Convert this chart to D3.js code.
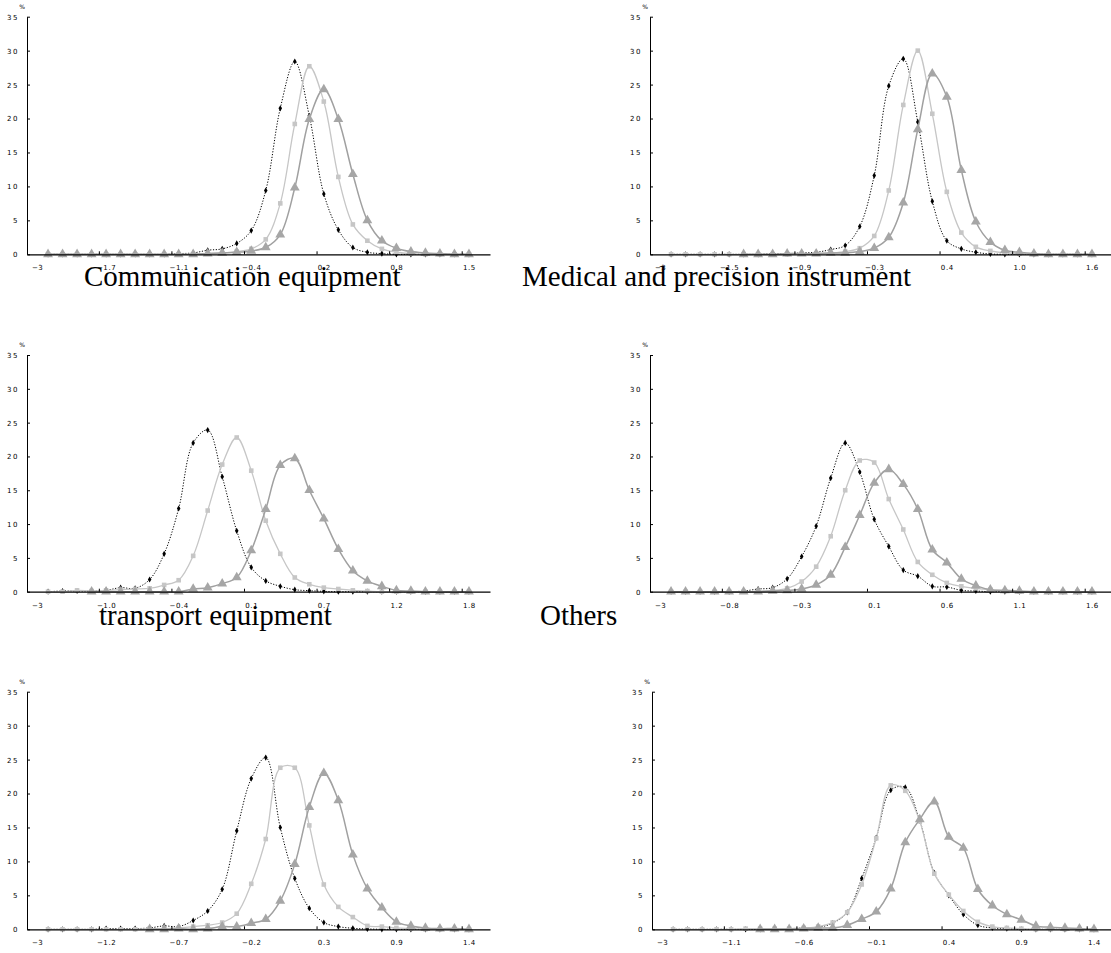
<!DOCTYPE html>
<html>
<head>
<meta charset="utf-8">
<script src="https://cdn.jsdelivr.net/npm/d3@7"></script>
<style>
  body { margin: 0; background: #fff; }
  svg { display: block; background: #fff; }
  .axis text { font-family: "DejaVu Sans", sans-serif; font-size: 7px; fill: #000; }
  .title { font-family: "Liberation Serif", serif; font-size: 29px; fill: #000; }
</style>
</head>
<body>
<svg width="1111" height="953"></svg>
<script>
const svg = d3.select("svg");

// shared axis stuff
const yTicks = [0, 5, 10, 15, 20, 25, 30, 35];
const xTickIdx = [-0.75, 4, 9, 14, 19, 24, 29];
const xMarkIdx = [3.5, 8.5, 13.5, 18.5, 23.5, 28.5];

// Communication equipment
const commTicks = ["−3", "−1.7", "−1.1", "−0.4", "0.2", "0.8", "1.5"];
const commA = [0,0,0,0,0,0,0,0,0,0.1,0.2,0.6,0.8,1.6,3.5,9.4,21.5,28.4,20.4,8.9,3.6,1.0,0.3,0.1,0,0,0,0,0,0];
const commB = [0,0,0,0,0,0,0,0,0,0,0,0.1,0.2,0.4,0.8,2.2,7.5,19.2,27.7,22.5,11.4,4.4,2.0,0.8,0.3,0.1,0,0,0,0];
const commC = [0,0,0,0,0,0,0,0,0,0,0,0.1,0.2,0.3,0.5,1.0,2.9,9.8,19.9,24.3,19.9,11.8,5.0,2.0,0.9,0.4,0.2,0.1,0,0];

// Medical and precision instrument
const medTicks = ["−3", "−1.5", "−0.9", "−0.3", "0.4", "1.0", "1.6"];
const medA = [0,0,0,0,0,0,0,0.1,0.1,0.2,0.3,0.7,1.3,4.1,11.6,24.8,28.8,19.5,7.8,2.0,0.8,0.3,0.05,0,0,0,0,0,0,0];
const medB = [0,0,0,0,0,0,0,0,0,0.1,0.1,0.2,0.4,0.9,2.7,9.4,22.0,30.0,20.7,9.2,3.2,1.1,0.5,0.2,0.1,0,0,0,0,0];
const medC = [null,null,null,null,null,0,0,0,0.1,0.1,0.1,0.2,0.2,0.4,0.9,2.5,7.6,18.4,26.6,23.2,12.4,4.8,1.8,0.6,0.3,0.1,0,0,0,0];

// transport equipment
const transTicks = ["−3", "−1.0", "−0.4", "0.1", "0.7", "1.2", "1.8"];
const transA = [0,0.1,0.1,0.1,0.2,0.6,0.5,1.8,5.6,12.3,22.0,23.9,17.0,9.0,3.6,1.6,0.8,0.3,0.15,0.05,0,0,0,0,0,0,0,0,0,0];
const transB = [0,0,0.2,0.1,0.2,0.3,0.4,0.5,1.0,1.7,5.3,12.0,18.8,22.8,17.9,10.5,5.6,2.1,1.1,0.6,0.4,0.2,0.1,0,0,0,0,0,0,0];
const transC = [null,null,null,0,0,0,0,0,0,0,0.4,0.6,1.2,2.1,6.1,12.2,18.7,19.7,15.0,10.8,6.3,3.1,1.6,0.8,0.2,0.1,0,0,0,0];

// Others
const othTicks = ["−3", "−0.8", "−0.3", "0.1", "0.6", "1.1", "1.6"];
const othA = [0,0,0,0,0,0.1,0.4,0.6,1.9,5.2,9.7,16.8,22.0,17.7,10.7,6.7,3.2,2.3,0.8,0.7,0.2,0.1,0,0,0,0,0,0,0,0];
const othB = [0,0,0,0,0,0,0.1,0.2,0.5,1.5,3.7,8.2,15.0,19.4,19.1,13.7,9.2,4.4,2.5,1.3,0.8,0.5,0.3,0.1,0,0,0,0,0,0];
const othC = [0,0,0,0,0,0,0,0.1,0.2,0.4,1.0,2.5,6.6,11.3,16.1,18.1,15.9,12.2,6.2,4.3,1.9,0.9,0.3,0.2,0.1,0,0,0,0,0];

// bottom left (no title)
const bl_Ticks = ["−3", "−1.2", "−0.7", "−0.2", "0.3", "0.9", "1.4"];
const bl_A = [0,0,0,0,0.1,0.1,0.1,0.2,0.5,0.4,1.3,2.7,5.9,14.5,22.2,25.3,15.0,7.5,3.1,1.0,0.4,0.15,0.05,0,0,0,0,0,0,0];
const bl_B = [0,0,0,0,0,0,0,0.1,0.1,0.2,0.4,0.6,1.0,2.3,6.7,13.3,23.8,23.8,15.3,6.6,3.3,1.8,0.5,0.4,0.2,0.1,0,0,0,0];
const bl_C = [null,null,null,null,null,null,null,0,0,0.1,0,0.1,0.4,0.4,0.9,1.5,4.2,9.6,18.0,23.0,19.0,11.0,6.0,3.2,1.1,0.5,0.2,0.1,0.1,0];

// bottom right (no title)
const br_Ticks = ["−3", "−1.1", "−0.6", "−0.1", "0.4", "0.9", "1.4"];
const br_A = [0,0,0,0,0,0,0,0.1,0.1,0.2,0.3,0.9,2.5,7.5,13.5,20.5,20.9,16.0,8.3,5.0,2.2,0.6,0.2,0.1,0,0,0,0,0,0];
const br_B = [0,0,0,0,0,0.1,0.1,0.1,0.1,0.2,0.4,1.0,2.5,6.6,13.4,21.2,20.4,15.9,8.2,5.1,2.7,1.1,0.4,0.2,0.1,0,0,0,0,0];
const br_C = [null,null,null,null,null,null,0,0,0,0.1,0.2,0.2,0.6,1.5,2.6,6.0,12.8,16.2,18.8,13.6,12.0,5.9,3.5,2.2,1.4,0.5,0.3,0.2,0.1,0];

const panels = [
  { a: commA, b: commB, c: commC, ticks: commTicks, left: 27, right: 490, top: 16.7, bottom: 254.3 },
  { a: medA, b: medB, c: medC, ticks: medTicks, left: 650, right: 1113, top: 16.7, bottom: 254.3 },
  { a: transA, b: transB, c: transC, ticks: transTicks, left: 27, right: 490, top: 355, bottom: 591.7 },
  { a: othA, b: othB, c: othC, ticks: othTicks, left: 650, right: 1113, top: 355, bottom: 591.7 },
  { a: bl_A, b: bl_B, c: bl_C, ticks: bl_Ticks, left: 27, right: 490, top: 691.7, bottom: 929.3 },
  { a: br_A, b: br_B, c: br_C, ticks: br_Ticks, left: 652, right: 1115, top: 691.7, bottom: 929.3 }
];

const titles = [
  { text: "Communication equipment", x: 84, y: 286 },
  { text: "Medical and precision instrument", x: 522, y: 286 },
  { text: "transport equipment", x: 99, y: 625 },
  { text: "Others", x: 540, y: 625 }
];

const render = (p) => {
  const g = svg.append("g");

  const xScale = d3.scaleLinear().domain([-1.45, 30.45]).range([p.left, p.right]);
  const yScale = d3.scaleLinear().domain([0, 35]).range([p.bottom, p.top]);

  // y axis, ticks inward
  const yAx = g.append("g")
    .attr("class", "axis")
    .attr("transform", `translate(${p.left},0)`)
    .call(d3.axisLeft(yScale).tickValues(yTicks).tickSizeInner(-3).tickSizeOuter(0).tickPadding(8));
  yAx.select(".domain").attr("stroke", "#000").attr("stroke-width", 1);
  yAx.selectAll("text").style("letter-spacing", "1.5px").attr("dy", "0.35em");

  g.append("text")
    .attr("x", p.left - 5)
    .attr("y", p.top - 8)
    .attr("text-anchor", "middle")
    .style("font-family", "DejaVu Sans, sans-serif")
    .style("font-size", "6px")
    .text("%");

  // x axis labels
  const xAx = g.append("g")
    .attr("class", "axis")
    .attr("transform", `translate(0,${p.bottom})`)
    .call(d3.axisBottom(xScale).tickValues(xTickIdx).tickFormat((d, i) => p.ticks[i]).tickSize(0).tickPadding(11));
  xAx.select(".domain").remove();
  xAx.selectAll("text").style("letter-spacing", "0.6px");

  // series
  const line = d3.line()
    .defined((d) => d != null)
    .x((d, i) => xScale(i))
    .y((d) => yScale(d))
    .curve(d3.curveCatmullRom.alpha(0.5));

  const pts = (arr) => arr.map((v, i) => ({ i, v })).filter((d) => d.v != null);

  // black dotted with diamonds
  g.append("path").datum(p.a).attr("d", line)
    .attr("fill", "none").attr("stroke", "#000").attr("stroke-width", 1).attr("stroke-dasharray", "1.2,1.6");
  g.selectAll(".dia").data(pts(p.a)).enter().append("path")
    .attr("transform", (d) => `translate(${xScale(d.i)},${yScale(d.v)})`)
    .attr("d", d3.symbol(d3.symbolDiamond).size(11))
    .attr("fill", "#000");

  // light gray with squares
  g.append("path").datum(p.b).attr("d", line)
    .attr("fill", "none").attr("stroke", "#c6c6c6").attr("stroke-width", 1.3);
  g.selectAll(".sq").data(pts(p.b)).enter().append("rect")
    .attr("x", (d) => xScale(d.i) - 2.3)
    .attr("y", (d) => yScale(d.v) - 2.3)
    .attr("width", 4.6).attr("height", 4.6)
    .attr("fill", "#c6c6c6");

  // gray with triangles
  g.append("path").datum(p.c).attr("d", line)
    .attr("fill", "none").attr("stroke", "#a0a0a0").attr("stroke-width", 1.5);
  g.selectAll(".tri").data(pts(p.c)).enter().append("path")
    .attr("transform", (d) => `translate(${xScale(d.i)},${yScale(d.v)})`)
    .attr("d", d3.symbol(d3.symbolTriangle).size(42))
    .attr("fill", "#a6a6a6");

  // x axis line + small tick marks on top of everything
  const xLine = g.append("g")
    .attr("class", "axis")
    .attr("transform", `translate(0,${p.bottom})`)
    .call(d3.axisTop(xScale).tickValues(xMarkIdx).tickFormat("").tickSizeInner(3).tickSizeOuter(0));
  xLine.select(".domain").attr("stroke", "#000").attr("stroke-width", 1.3);
};

panels.forEach(render);

svg.selectAll(".title")
  .data(titles)
  .enter()
  .append("text")
  .attr("class", "title")
  .attr("x", (d) => d.x)
  .attr("y", (d) => d.y)
  .text((d) => d.text);
</script>
</body>
</html>
